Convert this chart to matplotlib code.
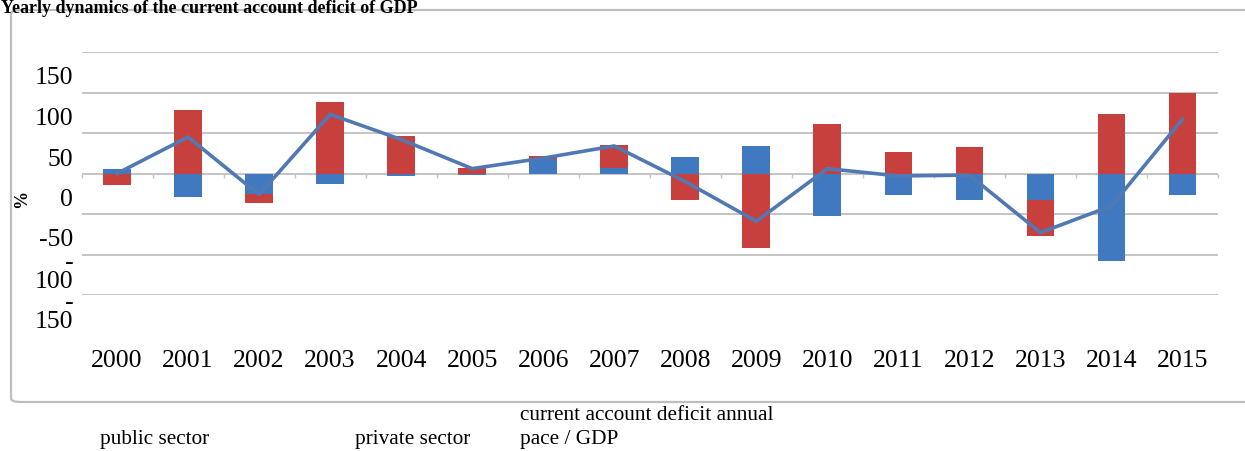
import numpy as np
import matplotlib
matplotlib.use("Agg")
import matplotlib.pyplot as plt
from matplotlib.patches import FancyBboxPatch
from matplotlib.transforms import ScaledTranslation

# yearly contributions to the current account deficit, % of GDP
years = [str(y) for y in range(2000, 2016)]
public_sector = [6, -29, -25, -13, -3, -2, 18, 7, 20, 34, -53, -27, -33, -33, -108, -27]
private_sector = [-14, 79, -12, 88, 46, 7, 3, 28, -33, -92, 61, 26, 33, -44, 73, 100]
deficit_pace = [0, 45, -26, 73, 42, 6, 19, 34, -10, -59, 6, -3, -2, -73, -40, 67]

y_ticks = [150, 100, 50, 0, -50, -100, -150]
y_tick_labels = ["150", "100", "50", "0", "-50", "-\n100", "-\n150"]
legend_labels = ["public sector", "private sector", "current account deficit annual\npace / GDP"]

BLUE = "#4179C0"
RED = "#C8403D"
LINE = "#5079B3"
GRID = "#C4C4C4"

W, H = 1245, 452
plt.rcParams["font.family"] = ["Liberation Serif", "DejaVu Serif"]
fig = plt.figure(figsize=(W / 100, H / 100), dpi=100)


def px_box(x0, y0, x1, y1):
    return [x0 / W, 1 - y1 / H, (x1 - x0) / W, (y1 - y0) / H]


# chart frame, kept behind the axes
frame = FancyBboxPatch((11 / W, 1 - 403 / H), (W + 20) / W, (403 - 11) / H,
                       boxstyle="round,pad=0,rounding_size=0.008",
                       transform=fig.transFigure, facecolor="none",
                       edgecolor="#BEBEBE", lw=1.6, zorder=-5)
fig.patches.append(frame)

ax = fig.add_axes(px_box(81.5, 53, 1218, 296))
ax.set_facecolor("none")

x = np.arange(len(years))
pub = np.array(public_sector, dtype=float)
pri = np.array(private_sector, dtype=float)
# positives stack upward from zero, negatives downward
pri_bottom = np.where(pri >= 0, np.maximum(pub, 0), np.minimum(pub, 0))

width = 0.39
ax.bar(x, pub, width, color=BLUE, zorder=2, label=legend_labels[0])
ax.bar(x, pri, width, bottom=pri_bottom, color=RED, zorder=2, label=legend_labels[1])
ax.plot(x, deficit_pace, color=LINE, lw=2.6, zorder=3, label=legend_labels[2])

ax.set_xlim(-0.5, len(years) - 0.5)
ax.set_ylim(-150, 150)
ax.set_yticks(y_ticks)
ax.set_yticklabels(y_tick_labels)
ax.yaxis.grid(True, color=GRID, lw=1.4)
ax.set_axisbelow(True)
for s in ax.spines.values():
    s.set_visible(False)

ax.set_xticks(x)
ax.set_xticklabels(years)
ax.tick_params(axis="x", length=0, pad=39, labelsize=18.5)
ax.tick_params(axis="y", length=0, pad=6, labelsize=18.5)

# shift the value labels down between the gridlines
for lab in ax.get_yticklabels():
    two_lines = "\n" in lab.get_text()
    dy = -16 if two_lines else -23
    lab.set_linespacing(0.8)
    lab.set_transform(lab.get_transform() + ScaledTranslation(0, dy / 100, fig.dpi_scale_trans))

# category tick marks on the zero line
zero_axis = ax.secondary_xaxis(0.5)
zero_axis.set_xticks(np.arange(-0.5, len(years), 1))
zero_axis.set_xticklabels([])
zero_axis.tick_params(axis="x", direction="out", length=3, width=1, color=GRID,
                      labelbottom=False, labeltop=False, bottom=True, top=False)
zero_axis.spines["bottom"].set_visible(False)
zero_axis.spines["top"].set_visible(False)

fig.text(22 / W, 1 - 199 / H, "%", rotation=90, fontsize=13, fontweight="bold",
         ha="center", va="center")

fig.text(1 / W, 1.0, "Yearly dynamics of the current account deficit of GDP",
         fontsize=13, fontweight="bold", ha="left", va="top")

# legend entries
fig.text(100 / W, 1 - 440 / H, legend_labels[0], fontsize=15.3, ha="left", va="center")
fig.text(355 / W, 1 - 440 / H, legend_labels[1], fontsize=15.3, ha="left", va="center")
first, second = legend_labels[2].split("\n")
fig.text(520 / W, 1 - 416 / H, first, fontsize=15.3, ha="left", va="center")
fig.text(520 / W, 1 - 440 / H, second, fontsize=15.3, ha="left", va="center")

fig.savefig("out.png", dpi=100)
